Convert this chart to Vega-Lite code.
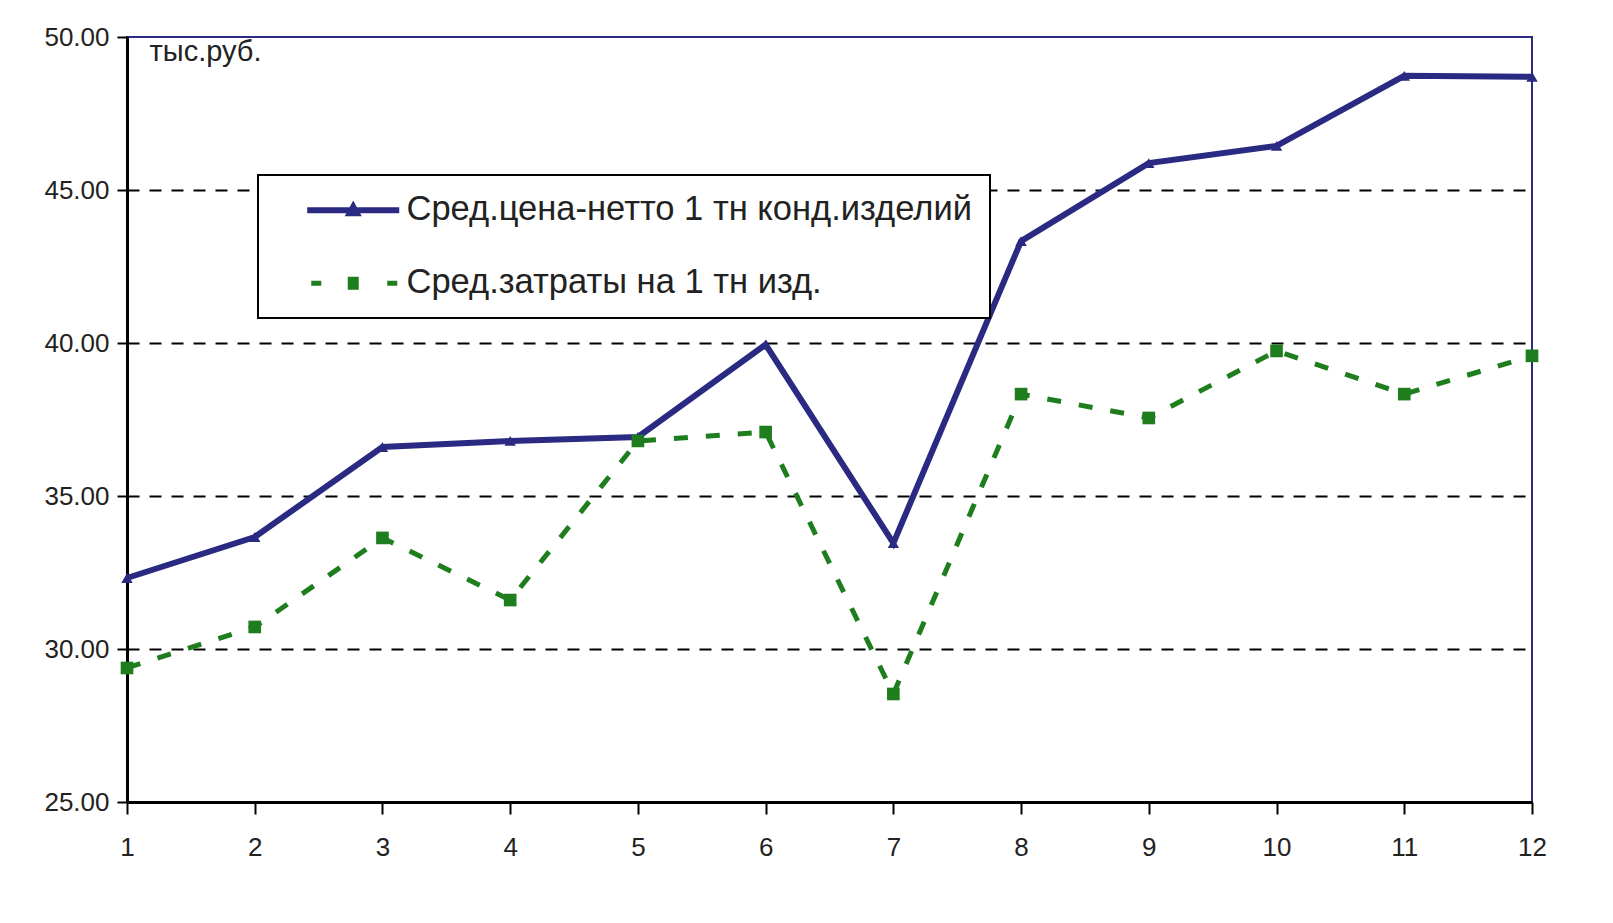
{
  "$schema": "https://vega.github.io/schema/vega-lite/v6.json",
  "width": 1405,
  "height": 765,
  "autosize": {"type": "none"},
  "padding": {"left": 127, "top": 37, "right": 81, "bottom": 121},
  "background": "white",
  "config": {
    "view": {"stroke": "#2B2B80", "strokeWidth": 2},
    "font": "Liberation Sans"
  },
  "data": {
    "values": [
      {"x": 1, "series": "Сред.цена-нетто 1 тн конд.изделий", "value": 32.32},
      {"x": 2, "series": "Сред.цена-нетто 1 тн конд.изделий", "value": 33.66},
      {"x": 3, "series": "Сред.цена-нетто 1 тн конд.изделий", "value": 36.6},
      {"x": 4, "series": "Сред.цена-нетто 1 тн конд.изделий", "value": 36.8},
      {"x": 5, "series": "Сред.цена-нетто 1 тн конд.изделий", "value": 36.93},
      {"x": 6, "series": "Сред.цена-нетто 1 тн конд.изделий", "value": 39.95},
      {"x": 7, "series": "Сред.цена-нетто 1 тн конд.изделий", "value": 33.46},
      {"x": 8, "series": "Сред.цена-нетто 1 тн конд.изделий", "value": 43.33},
      {"x": 9, "series": "Сред.цена-нетто 1 тн конд.изделий", "value": 45.88},
      {"x": 10, "series": "Сред.цена-нетто 1 тн конд.изделий", "value": 46.44},
      {"x": 11, "series": "Сред.цена-нетто 1 тн конд.изделий", "value": 48.73},
      {"x": 12, "series": "Сред.цена-нетто 1 тн конд.изделий", "value": 48.7},
      {"x": 1, "series": "Сред.затраты на 1 тн изд.", "value": 29.38},
      {"x": 2, "series": "Сред.затраты на 1 тн изд.", "value": 30.72},
      {"x": 3, "series": "Сред.затраты на 1 тн изд.", "value": 33.63},
      {"x": 4, "series": "Сред.затраты на 1 тн изд.", "value": 31.6},
      {"x": 5, "series": "Сред.затраты на 1 тн изд.", "value": 36.8},
      {"x": 6, "series": "Сред.затраты на 1 тн изд.", "value": 37.09},
      {"x": 7, "series": "Сред.затраты на 1 тн изд.", "value": 28.53},
      {"x": 8, "series": "Сред.затраты на 1 тн изд.", "value": 38.33},
      {"x": 9, "series": "Сред.затраты на 1 тн изд.", "value": 37.55},
      {"x": 10, "series": "Сред.затраты на 1 тн изд.", "value": 39.74},
      {"x": 11, "series": "Сред.затраты на 1 тн изд.", "value": 38.33},
      {"x": 12, "series": "Сред.затраты на 1 тн изд.", "value": 39.58}
    ]
  },
  "encoding": {
    "x": {
      "field": "x",
      "type": "quantitative",
      "scale": {"domain": [1, 12], "nice": false, "zero": false},
      "axis": {
        "values": [1, 2, 3, 4, 5, 6, 7, 8, 9, 10, 11, 12],
        "title": null,
        "grid": false,
        "domainColor": "black",
        "domainWidth": 3,
        "tickColor": "black",
        "tickWidth": 2,
        "tickSize": 12,
        "labelFontSize": 26,
        "labelColor": "#222222",
        "labelPadding": 20,
        "labelFlush": false
      }
    },
    "y": {
      "field": "value",
      "type": "quantitative",
      "scale": {"domain": [25, 50], "nice": false, "zero": false},
      "axis": {
        "values": [25, 30, 35, 40, 45, 50],
        "format": ".2f",
        "title": "тыс.руб.",
        "titleAngle": 0,
        "titleX": 22,
        "titleY": 14,
        "titleAlign": "left",
        "titleBaseline": "middle",
        "titleFontSize": 29,
        "titleFontWeight": "normal",
        "titleColor": "#222222",
        "grid": true,
        "gridDash": [12, 10],
        "gridColor": "black",
        "gridWidth": 2,
        "gridOpacity": {"condition": {"test": "datum.value == 50 || datum.value == 25", "value": 0}, "value": 1},
        "domainColor": "black",
        "domainWidth": 3,
        "tickColor": "black",
        "tickWidth": 2,
        "tickSize": 10,
        "labelFontSize": 26,
        "labelColor": "#222222",
        "labelPadding": 8
      }
    },
    "color": {
      "field": "series",
      "type": "nominal",
      "scale": {
        "domain": ["Сред.цена-нетто 1 тн конд.изделий", "Сред.затраты на 1 тн изд."],
        "range": ["#2A2A82", "#1E7E1E"]
      },
      "legend": {
        "orient": "none",
        "legendX": 131,
        "legendY": 138,
        "title": null,
        "fillColor": "white",
        "strokeColor": "black",
        "padding": 18,
        "rowPadding": 38,
        "labelFontSize": 34.5,
        "labelColor": "#222222",
        "labelOffset": 96,
        "labelLimit": 0,
        "symbolSize": 400,
        "symbolStrokeWidth": 5,
        "encode": {
          "legend": {"update": {"strokeWidth": {"value": 2}}},
          "symbols": {
            "update": {
              "shape": {"signal": "datum.index === 0 ? 'M1.4,0H10.6M5.65,0.3L6,-0.35L6.35,0.3Z' : 'M1.8,0H2.8M9.4,0H10.4M5.7,-0.4H6.3V0.4H5.7Z'"},
              "fill": {"signal": "datum.index === 0 ? '#2A2A82' : '#1E7E1E'"},
              "stroke": {"signal": "datum.index === 0 ? '#2A2A82' : '#1E7E1E'"},
              "strokeWidth": {"signal": "datum.index === 0 ? 6 : 5"},
              "strokeDash": {"value": []},
              "opacity": {"value": 1},
              "fillOpacity": {"value": 1}
            }
          }
        }
      }
    }
  },
  "layer": [
    {
      "transform": [{"filter": "datum.series === 'Сред.цена-нетто 1 тн конд.изделий'"}],
      "mark": {"type": "line", "strokeWidth": 6}
    },
    {
      "transform": [{"filter": "datum.series === 'Сред.затраты на 1 тн изд.'"}],
      "mark": {"type": "line", "strokeWidth": 5, "strokeDash": [14, 18]}
    },
    {
      "transform": [{"filter": "datum.series === 'Сред.цена-нетто 1 тн конд.изделий'"}],
      "mark": {"type": "point", "shape": "triangle-up", "filled": true, "opacity": 1, "size": 130}
    },
    {
      "transform": [{"filter": "datum.series === 'Сред.затраты на 1 тн изд.'"}],
      "mark": {"type": "point", "shape": "square", "filled": true, "opacity": 1, "size": 160}
    }
  ]
}
